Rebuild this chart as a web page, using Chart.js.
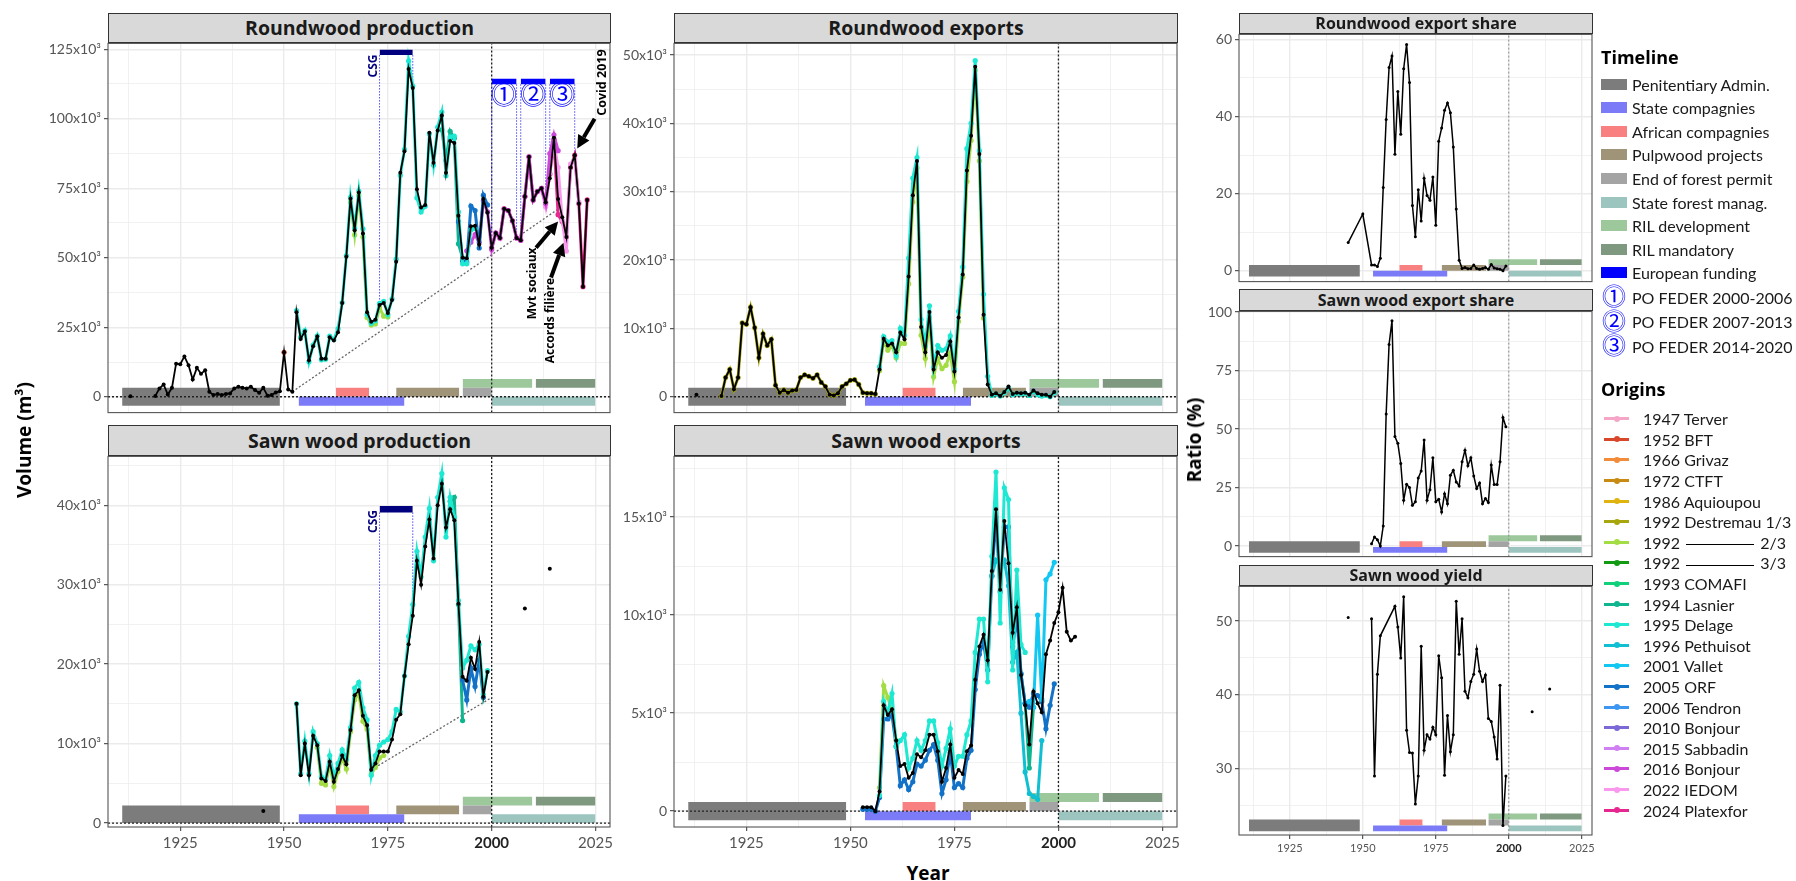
<!DOCTYPE html>
<html>
<head>
<meta charset="utf-8">
<title>Timber production and exports</title>
<script src="https://cdn.jsdelivr.net/npm/chart.js@4.4.1/dist/chart.umd.min.js"></script>
<style>
  html, body { margin: 0; padding: 0; background: #fff; }
  #page { position: relative; width: 1796px; height: 881px; overflow: hidden; font-family: Lato, sans-serif; }
  #page canvas { position: absolute; }
  .strip { position: absolute; box-sizing: border-box; background: #d9d9d9; border: 1px solid #333;
           font-family: "Open Sans", sans-serif; font-weight: 700; color: #1a1a1a; text-align: center; white-space: nowrap; }
  .axis-title { position: absolute; font-family: "Open Sans", sans-serif; font-weight: 700; font-size: 19px;
                color: #000; white-space: nowrap; transform: translate(-50%, -50%); }
  .axis-title.vertical { transform: translate(-50%, -50%) rotate(-90deg); }
  .leg-title { position: absolute; left: 1601px; font-family: "Open Sans", sans-serif; font-weight: 700;
               font-size: 18px; color: #000; transform: translateY(-50%); white-space: nowrap; }
  .leg-row { position: absolute; left: 1601px; height: 22px; display: flex; align-items: center;
             font-size: 16px; color: #1a1a1a; white-space: nowrap; transform: translateY(-50%); }
  .sw-box { display: inline-block; width: 26px; height: 11px; margin-right: 5px; }
  .sw-line { position: relative; display: inline-block; width: 25px; height: 14px; margin: 0 14px 0 3px; }
  .sw-line i { position: absolute; left: 0; top: 5.5px; width: 25px; height: 3px; }
  .sw-line b { position: absolute; left: 9.5px; top: 4px; width: 6px; height: 6px; border-radius: 50%; }
  .sw-circ { display: inline-block; width: 26px; margin-right: 5px; text-align: center; color: #0000ff;
             font-family: "DejaVu Sans", "Noto Sans CJK JP", sans-serif; font-size: 24px; line-height: 22px; }
  .dash { display: inline-block; width: 68px; border-top: 1.5px solid #000; margin: 0 6px; vertical-align: middle; }
</style>
</head>
<body>
<div id="page"></div>
<script>
// shared x axis (years)
const X_MIN = 1907.6, X_MAX = 2028.5;
const xMajor = [1925, 1950, 1975, 2000, 2025];
const xMinor = [1912.5, 1937.5, 1962.5, 1987.5, 2012.5];

// timeline periods
const timelineNames = ['Penitentiary Admin.', 'State compagnies', 'African compagnies', 'Pulpwood projects',
  'End of forest permit', 'State forest manag.', 'RIL development', 'RIL mandatory'];
const timelineStart = [1911, 1953.5, 1962.5, 1977, 1993, 2000, 1993, 2010.6];
const timelineEnd = [1949, 1979, 1970.5, 1992.2, 2000, 2025, 2009.8, 2025];
const timelineColors = ['#7c7c7c', '#7b7bf8', '#f88080', '#a09478', '#a4a4a4', '#9cc5c0', '#9dc89b', '#7f9880'];

// events
const csgPeriod = [1973, 1981];
const federPeriods = [[2000, 2006], [2007, 2013], [2014, 2020]];
const federMarks = ['⓵', '⓶', '⓷'];
const federNames = ['PO FEDER 2000-2006', 'PO FEDER 2007-2013', 'PO FEDER 2014-2020'];

// data origins
const originNames = ['1947 Terver', '1952 BFT', '1966 Grivaz', '1972 CTFT', '1986 Aquioupou', '1992 Destremau 1/3',
  '1992 2/3', '1992 3/3', '1993 COMAFI', '1994 Lasnier', '1995 Delage', '1996 Pethuisot', '2001 Vallet', '2005 ORF',
  '2006 Tendron', '2010 Bonjour', '2015 Sabbadin', '2016 Bonjour', '2022 IEDOM', '2024 Platexfor'];
const originColors = ['#f5a6c6', '#d9472b', '#f28c3a', '#c78a12', '#e0b40e', '#a8a60e', '#a4dc44', '#139a13',
  '#10d07a', '#0fb58e', '#1fe8d2', '#10bfd2', '#12c8f2', '#1272c8', '#3d96f0', '#7c68d6', '#d080f2', '#cc48d8',
  '#fa98ee', '#e6278f'];

// ---- Roundwood production (10^3 m3), consecutive years from the start year ----
const rwProd = [0.2, null, null, null, null, null,            // 1913-1918
  0.3, 3.0, 4.4, 0.8, 3.2, 11.9, 11.7, 14.5, 11.3, 6.2, 10.4,    // 1919-1929
  8.3, 9.5, 1.8, 0.6, 1.0, 0.6, 1.0, 1.2, 3.0, 3.6,              // 1930-1939
  3.2, 3.0, 3.6, 2.4, 1.4, 3.2, 0.4, 0.6, 1.5, 2.0,              // 1940-1949
  16.0, 2.6, 1.8, 30.4, 20.8, 23.5, 13.1, 18.2, 21.7, 13.7,      // 1950-1959
  13.7, 21.4, 20.2, 23.2, 33.7, 50.4, 71.2, 59.9, 73.5, 58.7,    // 1960-1969
  30.4, 27.0, 27.7, 33.0, 33.7, 30.1, 34.8, 48.6, 80.6, 88.3,    // 1970-1979
  117.9, 111.1, 74.6, 68.1, 69.0, 95.0, 84.2, 95.8, 101.2, 80.6, // 1980-1989
  92.0, 91.3, 65.1, 50.0, 49.8, 61.3, 61.5, 54.8, 71.1, 66.3,    // 1990-1999
  53.6, 58.9, 57.1, 67.6, 67.0, 63.3, 57.1, 56.3, 72.0, 86.3,    // 2000-2009
  70.8, 73.8, 75.0, 70.0, 78.6, 93.2, 71.1, 64.6, 57.5, 82.5,    // 2010-2019
  86.9, 69.5, 39.6, 70.8];                                       // 2020-2023
const rwProdDelage = [31.0, 21.4, 23.8, 12.6, 18.6, 21.9, 13.3, 13.5, 21.8, 20.6, 24.5, 33.9, 50.8, 71.7, 60.6,
  74.0, 60.4, 29.6, 26.4, 27.3, 33.6, 34.3, 29.6, 35.2, 49.5, 79.6, 89.0, 120.8, 111.8, 71.5, 66.5, 68.5, 94.6,
  83.3, 97.0, 102.4, 79.5, 93.5, 93.8, 66.5, 47.8, 47.8, 60.0, 60.5];          // 1953-1996
const rwProdOrf = [63.0, 48.8, 48.5, 68.6, 67.0, 53.5, 72.5, 69.0];           // 1992-1999
const rwProdLime = [70.0, 58.2, 72.5, 57.5, 28.5, 25.8, 26.2, 32.0, 29.0, 28.7]; // 1966-1975
const rwProdLasnier = [96.0, 85.0, 95.5, 93.0, 55.0, 50.0];                   // 1988-1993
const rwProdBft = [16.0];                                                     // 1950
const rwProdBonjour = [52.5, 55.6, 58.3, 55.5, 70.5, 66.5, 53.0, 58.9, 57.1, 67.6, 67.0, 63.3, 57.1, 56.3,
  72.0, 86.3, 70.8, 73.8, 75.0, 69.5, 87.5, 94.2, 88.5];                       // 1994-2016
const rwProdIedom = [74.5, 68.3, 80.5, 91.5, 82.5, 63.5, 52.4, 83.7, 85.5, 70.0]; // 2012-2021
const rwProdPlatexfor = [53.6, 58.9, 57.1, 67.6, 67.0, 63.3, 57.1, 56.3, 72.0, 86.3, 70.8, 73.8, 75.0, 70.0,
  80.0, 92.5, 65.5, 63.0, 57.5, 82.5, 86.9, 69.5, 39.6, 70.8];                 // 2000-2023
const rwProdTrend = [[1952, 1.8], [2016, 67.5]];

// ---- Roundwood exports (10^3 m3) ----
const rwExp = [0.3, null, null, null, null, null,             // 1913-1918
  0.1, 2.8, 4.0, 1.1, 2.8, 10.8, 10.6, 13.1, 10.1, 5.7, 9.2,     // 1919-1929
  7.5, 8.4, 1.7, 0.6, 1.0, 0.6, 0.9, 1.0, 2.8, 3.2,              // 1930-1939
  3.0, 2.7, 3.2, 2.1, 1.5, 0.3, 0.2, 0.5, 1.5, 1.9,              // 1940-1949
  2.4, 2.5, 1.8, 0.6, 0.5, 0.5, 0.4, 4.0, 8.5, 7.5,              // 1950-1959
  7.8, 6.5, 9.4, 8.4, 17.6, 29.5, 34.5, 10.2, 6.5, 12.4,         // 1960-1969
  4.0, 6.5, 5.7, 6.1, 8.1, 3.7, 11.6, 17.9, 33.1, 38.2,          // 1970-1979
  48.3, 35.5, 12.0, 1.8, 0.3, 0.5, 0.1, 0.7, 1.5, 0.4,           // 1980-1989
  0.6, 0.5, 0.6, 0.3, 0.9, 0.5, 0.3, 0.3, 0.0, 0.7];             // 1990-1999
const rwExpDestremau = [0.1, 2.8, 4.0, 1.1, 2.8, 10.8, 10.6, 13.1, 10.1, 5.7, 9.2, 7.5, 8.4, 1.7, 0.6, 1.0,
  0.6, 0.9, 1.0, 2.8, 3.2, 3.0, 2.7, 3.2, 2.1, 1.5, 0.3, 0.2, 0.5, 1.5, 1.9, 2.4, 2.5, 1.8, 0.6, 0.5, 0.5, 0.4]; // 1919-1956
const rwExpDelage = [4.4, 8.8, 8.0, 8.2, 6.0, 10.0, 9.0, 20.3, 32.0, 35.0, 11.3, 7.5, 13.3, 4.3, 7.5, 6.8,
  7.0, 8.9, 4.0, 12.5, 19.0, 36.3, 40.0, 49.2, 36.0, 15.0, 3.0, 0.2, 0.4, 0.1, 0.6, 1.3, 0.3, 0.5, 0.4, 0.5,
  0.2, 0.8, 0.3, 0.1, 0.2, 0.0, 0.6];                                          // 1957-1999
const rwExpLime = [3.8, 8.2, 6.8, 7.4, 5.7, 7.8, 7.8, 16.5, 28.5, 33.5, 9.0, 5.6, 11.5, 2.9, 5.6, 4.1, 4.6,
  6.4, 2.2, 11.0, 17.5, 31.5, 37.5, 47.8, 34.5, 11.5];                         // 1957-1982

// ---- Sawn wood production (10^3 m3) ----
const swProdEarly = [1.5];                                    // 1945
const swProd = [15.0, 6.0, 10.0, 6.0, 11.0, 9.8, 5.6,         // 1953-1959
  5.3, 7.7, 5.2, 6.8, 8.5, 7.4, 11.7, 16.1, 16.7, 13.5,          // 1960-1969
  12.3, 6.7, 7.5, 9.0, 9.0, 9.0, 10.5, 13.0, 13.7, 18.5,         // 1970-1979
  22.5, 26.1, 33.0, 30.0, 34.8, 38.2, 33.3, 40.0, 42.7, 37.2,    // 1980-1989
  39.5, 38.1, 27.6, 18.4, 17.9, 20.8, 19.4, 22.8, 15.9, 19.0];   // 1990-1999
const swProdLateYears = [2008, 2014];
const swProdLate = [27.0, 32.0];
const swProdDelage = [15.0, 6.2, 10.3, 6.2, 11.5, 10.0, 5.8, 5.5, 8.5, 5.8, 7.5, 9.2, 8.0, 12.0, 17.0, 17.7,
  14.5, 13.0, 6.0, 8.5, 9.8, 10.2, 10.5, 11.5, 14.3, 14.0, 18.5, 23.5, 27.5, 34.2, 31.0, 36.0, 39.6, 33.0, 41.0,
  44.0, 36.0, 41.0, 38.5, 28.0, 19.5, 20.5, 22.3, 21.8, 22.5, 16.2, 19.2];      // 1953-1999
const swProdOrf = [18.0, 15.5, 19.5, 17.2, 20.5, 15.8];                       // 1993-1998
const swProdLasnier = [40.5, 41.0, 27.5, 12.9];                               // 1990-1993
const swProdLime = [9.5, 5.0, 4.8, 7.4, 4.6, 6.5, 8.2, 6.8, 11.5, 15.5, 16.3, 12.8, 11.8, 6.2, 7.0, 8.2, 8.5]; // 1958-1974
const swProdTrend = [[1971, 6.7], [2000, 15.8]];

// ---- Sawn wood exports (10^3 m3) ----
const swExp = [0.2, 0.2, 0.2, 0.0, 1.0, 5.4, 4.9,             // 1953-1959
  5.2, 3.6, 2.3, 2.4, 1.7, 1.95, 2.9, 2.75, 3.1, 3.9,            // 1960-1969
  3.9, 3.05, 1.5, 2.2, 3.4, 1.7, 2.1, 1.9, 3.05, 3.35,           // 1970-1979
  6.7, 8.4, 9.0, 7.7, 12.25, 15.4, 11.3, 14.8, 12.65, 9.1,       // 1980-1989
  10.4, 6.95, 5.4, 3.4, 6.1, 5.5, 5.05, 8.0, 8.7, 9.6,           // 1990-1999
  10.15, 11.4, 9.15, 8.7, 8.9];                                  // 2000-2004
const swExpDelage = [0.8, 5.6, 5.0, 6.0, 3.3, 3.6, 3.9, 2.2, 2.7, 3.6, 3.1, 3.6, 4.6, 4.6, 3.5, 2.3, 3.2, 4.2,
  2.3, 2.8, 2.8, 3.9, 4.6, 8.1, 9.8, 9.8, 6.6, 13.0, 17.3, 9.6, 16.5, 15.9, 7.2, 12.3, 8.5, 8.1]; // 1957-1992
const swExpPethuisot = [12.0, 12.8, 12.5, 12.8, 11.5, 7.6, 8.1, 5.0, 2.0, 0.9, 0.75, 0.6, 3.6]; // 1984-1996
const swExpVallet = [5.6, 5.3, 10.0, 5.7, 11.8, 12.1, 12.7];                  // 1993-1999
const swExpOrf = [0.1, 0.1, 0.1, 0.0, 0.7, 4.7, 4.7, 4.9, 3.3, 1.3, 1.6, 1.1, 1.5, 2.4, 2.3, 2.6, 3.1, 3.4,
  2.6, 0.9, 1.6, 3.0, 1.2, 1.4, 1.2, 2.7, 3.1, 6.2, 8.0, 8.6, 7.2, 12.0, 15.0, 11.2, 14.5, 14.5, 8.4, 9.9,
  7.0, 5.5, 5.3, 6.0, 5.9, 5.6, 4.2, 5.4, 6.5];                                 // 1953-1999
const swExpLime = [1.2, 6.4, 5.8, 5.1, 3.6];                                  // 1957-1961
const swExpLasnier = [8.6, 10.7, 7.0, 5.5, 2.2, 5.3];                         // 1989-1994

// ---- Ratios (%) ----
const rwShareEarlyYears = [1945, 1950];
const rwShareEarly = [7.3, 14.7];
const rwShare = [1.5, 1.5, 1.1, 3.2, 21.6, 39.2, 52.7,        // 1953-1959
  55.7, 30.2, 46.5, 35.4, 52.4, 58.7, 48.8, 16.9, 8.8, 21.0,     // 1960-1969
  12.9, 24.0, 19.5, 18.3, 24.3, 11.8, 33.6, 37.0, 41.6, 43.5,    // 1970-1979
  41.0, 32.1, 16.0, 2.7, 0.6, 0.8, 0.5, 0.6, 1.5, 0.6,           // 1980-1989
  0.4, 0.6, 0.8, 0.4, 1.6, 0.7, 0.5, 0.4, 0.0, 1.2];             // 1990-1999
const swShare = [1.0, 3.9, 2.7, 0.0, 8.6, 56.5, 86.2,         // 1953-1959
  96.3, 46.8, 43.9, 35.3, 19.6, 26.4, 25.0, 17.4, 18.9, 29.1,    // 1960-1969
  32.1, 45.3, 19.6, 24.1, 37.7, 18.9, 20.0, 14.6, 22.4, 18.1,    // 1970-1979
  30.3, 32.4, 27.4, 25.7, 36.0, 41.0, 34.3, 37.7, 30.0, 24.6,    // 1980-1989
  27.0, 18.1, 20.3, 18.6, 34.6, 26.3, 26.3, 36.0, 55.0, 51.0];   // 1990-1999
const yieldEarly = [50.5];                                    // 1945
const yield50s = [50.3, 29.0, 42.8, 48.0];                    // 1953-1956
const yieldMain = [52.0, 49.2, 45.0, 53.3, 35.2, 32.2, 32.1, 25.2, 29.0, // 1961-1969
  46.6, 32.5, 34.6, 34.0, 35.6, 34.6, 45.3, 42.3, 29.1, 37.2,    // 1970-1979
  32.3, 34.6, 52.7, 45.5, 50.3, 40.5, 39.6, 41.8, 42.8, 46.2,    // 1980-1989
  43.2, 41.8, 42.7, 36.8, 36.4, 34.3, 31.3, 41.3, 22.3, 29.0];   // 1990-1999
const yieldLateYears = [2008, 2014];
const yieldLate = [37.7, 40.8];

// ---------------------------------------------------------------
const page = document.getElementById('page');
Chart.defaults.font.family = 'Lato, sans-serif';

const pts = (start, values) => values.map((v, i) => ({ x: start + i, y: v })).filter(p => p.y !== null);
const pairs = (years, values) => years.map((yr, i) => ({ x: yr, y: values[i] }));
const originColor = name => originColors[originNames.indexOf(name)];

function blackDs(data, thin) {
  return { data, borderColor: '#000', backgroundColor: '#000', pointBackgroundColor: '#000',
    borderWidth: thin ? 1.5 : 1.8, pointRadius: thin ? 1.5 : 2, pointBorderWidth: 0,
    spanGaps: 5.5, fill: false, order: 0 };
}
function originDs(data, name) {
  const c = originColor(name);
  return { data, borderColor: c, backgroundColor: c, pointBackgroundColor: c, borderWidth: 3,
    pointRadius: 2.6, pointBorderWidth: 0, spanGaps: 5.5, fill: false, order: 2 };
}
function rectDs(x0, x1, y0, y1, color, order) {
  return { data: [{ x: x0, y: y1 }, { x: x1, y: y1 }], borderWidth: 0, pointRadius: 0,
    fill: { value: y0 }, backgroundColor: color, borderColor: color, order };
}
function dottedDs(data, color, width, dash, order) {
  return { data, borderColor: color, borderWidth: width, borderDash: dash, pointRadius: 0, fill: false, order };
}
function timelineDs(base, h) {
  const lo = [-1, -1, 0, 0, 0, -1, 1, 1], hi = [1, 0, 1, 1, 1, 0, 2, 2];
  return timelineNames.map((n, i) =>
    rectDs(timelineStart[i], timelineEnd[i], base + lo[i] * h, base + hi[i] * h, timelineColors[i], 10));
}
function trendDs(tr) {
  return dottedDs(tr.map(([x, y]) => ({ x, y })), '#666', 1.3, [2, 2], 3);
}
function guideDs(x, yTop, yData) {
  return dottedDs([{ x, y: yTop }, { x, y: yData }], '#3a3aff', 0.9, [1.5, 1.5], 4);
}
function csgDs(start, values, yLo, yHi) {
  const [a, b] = csgPeriod;
  return [rectDs(a, b, yLo, yHi, '#00007f', 1),
    guideDs(a, yLo, values[a - start]), guideDs(b, yLo, values[b - start])];
}
function federDs(start, values, yLo, yHi) {
  const out = [];
  federPeriods.forEach(([a, b]) => {
    out.push(rectDs(a, b, yLo, yHi, '#0000ff', 1));
    out.push(guideDs(a, yLo, values[a - start]), guideDs(b, yLo, values[b - start]));
  });
  return out;
}

function drawArrow(ctx, x0, y0, x1, y1) {
  const ang = Math.atan2(y1 - y0, x1 - x0), head = 13, hw = 6.5;
  const bx = x1 - head * Math.cos(ang), by = y1 - head * Math.sin(ang);
  ctx.strokeStyle = '#000'; ctx.fillStyle = '#000'; ctx.lineWidth = 4; ctx.lineCap = 'butt';
  ctx.beginPath(); ctx.moveTo(x0, y0); ctx.lineTo(bx, by); ctx.stroke();
  ctx.beginPath(); ctx.moveTo(x1, y1);
  ctx.lineTo(bx + hw * Math.sin(ang), by - hw * Math.cos(ang));
  ctx.lineTo(bx - hw * Math.sin(ang), by + hw * Math.cos(ang));
  ctx.closePath(); ctx.fill();
}
function makeDeco(deco) {
  return {
    id: 'deco',
    afterDatasetsDraw(chart) {
      const { ctx, chartArea: a, scales: { x, y } } = chart;
      ctx.save();
      ctx.beginPath(); ctx.rect(a.left, a.top, a.right - a.left, a.bottom - a.top); ctx.clip();
      (deco.arrows || []).forEach(([x0, y0, x1, y1]) => drawArrow(ctx,
        x.getPixelForValue(x0), y.getPixelForValue(y0), x.getPixelForValue(x1), y.getPixelForValue(y1)));
      (deco.texts || []).forEach(t => {
        ctx.save();
        ctx.translate(x.getPixelForValue(t.x), y.getPixelForValue(t.y));
        if (t.rotate) ctx.rotate(-Math.PI / 2);
        ctx.font = `${t.weight || 700} ${t.size}px ${t.family || '"Open Sans", sans-serif'}`;
        ctx.fillStyle = t.color || '#000';
        ctx.textAlign = 'center'; ctx.textBaseline = 'middle';
        ctx.fillText(t.text, 0, 0);
        ctx.restore();
      });
      ctx.restore();
      ctx.save();
      ctx.strokeStyle = '#555'; ctx.lineWidth = 1.1;
      ctx.strokeRect(a.left, a.top, a.right - a.left, a.bottom - a.top);
      ctx.restore();
    }
  };
}

const COLS = { L: { left: 108, right: 610, padL: 72 }, M: { left: 674, right: 1177, padL: 64 },
  R: { left: 1239, right: 1592, padL: 40 } };
const ROWS = { top: { stripTop: 13, top: 42, bottom: 414 }, bottom: { stripTop: 425, top: 455, bottom: 827 },
  r1: { stripTop: 13, top: 33, bottom: 283 }, r2: { stripTop: 289, top: 310, bottom: 558 },
  r3: { stripTop: 565, top: 585, bottom: 835 } };

function buildPanel(p) {
  const c = COLS[p.col], r = ROWS[p.row];
  const padT = 10, padR = 22, padB = p.xLabels ? p.xLabelSpace : 10;
  const W = c.right - c.left + c.padL + padR;
  const H = r.bottom - r.top + padT + padB;
  const canvas = document.createElement('canvas');
  canvas.width = W; canvas.height = H;
  Object.assign(canvas.style, { left: (c.left - c.padL) + 'px', top: (r.top - padT) + 'px', width: W + 'px', height: H + 'px' });
  page.appendChild(canvas);

  const strip = document.createElement('div');
  strip.className = 'strip';
  strip.textContent = p.title;
  Object.assign(strip.style, { left: c.left + 'px', top: r.stripTop + 'px', width: (c.right - c.left + 1) + 'px',
    height: (r.top - r.stripTop + 1) + 'px', fontSize: p.stripFont + 'px', lineHeight: (r.top - r.stripTop - 1) + 'px' });
  page.appendChild(strip);

  const isMajorX = v => xMajor.includes(v);
  const isMajorY = v => p.yMajor.includes(v);
  const yLabel = v => !isMajorY(v) ? '' : (p.thousands && v !== 0 ? v + 'x10³' : String(v));
  const datasets = [...p.series, ...timelineDs(p.base, p.h),
    dottedDs([{ x: 2000, y: p.yMin }, { x: 2000, y: p.yMax }], p.col === 'R' ? '#8a8a8a' : '#222', p.col === 'R' ? 1 : 1.3, [2, 2], 5)];
  if (p.zero) datasets.push(dottedDs([{ x: X_MIN, y: 0 }, { x: X_MAX, y: 0 }], '#222', 1.3, [2, 2], 5));

  new Chart(canvas, {
    type: 'line',
    data: { datasets },
    options: {
      responsive: false, animation: false, devicePixelRatio: 1, events: [],
      layout: { padding: { left: 0, top: padT, right: padR, bottom: p.xLabels ? 0 : padB } },
      plugins: { legend: { display: false }, tooltip: { enabled: false } },
      scales: {
        x: {
          type: 'linear', min: X_MIN, max: X_MAX,
          afterBuildTicks: s => { s.ticks = xMajor.concat(xMinor).sort((a, b) => a - b).map(v => ({ value: v })); },
          afterFit: s => { s.height = p.xLabels ? padB : 0; },
          border: { display: false },
          grid: { color: '#ebebeb', lineWidth: ctx => (ctx.tick && isMajorX(ctx.tick.value)) ? 1.4 : 0.7,
            drawTicks: !!p.xLabels, tickLength: 4, tickWidth: 1,
            tickColor: ctx => (ctx.tick && isMajorX(ctx.tick.value)) ? '#333' : 'rgba(0,0,0,0)' },
          ticks: { display: !!p.xLabels, autoSkip: false, maxRotation: 0, minRotation: 0, padding: 3,
            callback: v => isMajorX(v) ? String(v) : '',
            font: ctx => ({ family: 'Lato', size: p.xTickSize || 15, weight: (ctx.tick && ctx.tick.value === 2000) ? 'bold' : 'normal' }),
            color: ctx => (ctx.tick && ctx.tick.value === 2000) ? '#222' : '#555' }
        },
        y: {
          type: 'linear', min: p.yMin, max: p.yMax,
          afterBuildTicks: s => { s.ticks = p.yMajor.concat(p.yMinor).sort((a, b) => a - b).map(v => ({ value: v })); },
          afterFit: s => { s.width = c.padL; },
          border: { display: false },
          grid: { color: '#ebebeb', lineWidth: ctx => (ctx.tick && isMajorY(ctx.tick.value)) ? 1.4 : 0.7,
            drawTicks: true, tickLength: 4, tickWidth: 1,
            tickColor: ctx => (ctx.tick && isMajorY(ctx.tick.value)) ? '#333' : 'rgba(0,0,0,0)' },
          ticks: { autoSkip: false, padding: 3, callback: yLabel, font: { family: 'Lato', size: 14 }, color: '#555' }
        }
      }
    },
    plugins: [makeDeco(p.deco || {})]
  });
}

const panels = [
  { title: 'Roundwood production', col: 'L', row: 'top', stripFont: 19.5, thousands: true, zero: true,
    yMin: -5.7, yMax: 127.1, yMajor: [0, 25, 50, 75, 100, 125], yMinor: [12.5, 37.5, 62.5, 87.5, 112.5], base: 0, h: 3.2,
    series: [blackDs(pts(1913, rwProd)),
      originDs(pts(1953, rwProdDelage), '1995 Delage'), originDs(pts(1992, rwProdOrf), '2005 ORF'),
      originDs(pts(1966, rwProdLime), '1992 2/3'), originDs(pts(1988, rwProdLasnier), '1994 Lasnier'),
      originDs(pts(1950, rwProdBft), '1952 BFT'), originDs(pts(1994, rwProdBonjour), '2016 Bonjour'),
      originDs(pts(2012, rwProdIedom), '2022 IEDOM'), originDs(pts(2000, rwProdPlatexfor), '2024 Platexfor'),
      trendDs(rwProdTrend), ...csgDs(1913, rwProd, 122.9, 124.8), ...federDs(1913, rwProd, 112.4, 114.4)],
    deco: {
      texts: [
        { x: 1971.5, y: 119, text: 'CSG', color: '#00007f', size: 12, rotate: true },
        { x: 2026.6, y: 113, text: 'Covid 2019', size: 12.5, rotate: true },
        { x: 2009.9, y: 40.8, text: 'Mvt sociaux', size: 12, rotate: true },
        { x: 2014.2, y: 27.4, text: 'Accords filière', size: 12, rotate: true },
        ...federMarks.map((m, i) => ({ x: (federPeriods[i][0] + federPeriods[i][1]) / 2, y: 107.7, text: m,
          color: '#0000ff', size: 26, weight: 400, family: '"DejaVu Sans", "Noto Sans CJK JP", sans-serif' }))
      ],
      arrows: [[2024.8, 100, 2020.6, 89.3], [2010.7, 53.6, 2016.0, 63.0], [2014.3, 42.9, 2017.3, 55.4]]
    } },
  { title: 'Sawn wood production', col: 'L', row: 'bottom', stripFont: 19.5, thousands: true, zero: true,
    xLabels: true, xLabelSpace: 30, xTickSize: 15,
    yMin: -0.5, yMax: 46.15, yMajor: [0, 10, 20, 30, 40], yMinor: [5, 15, 25, 35, 45], base: 1.1, h: 1.1,
    series: [blackDs([...pts(1945, swProdEarly), ...pts(1953, swProd), ...pairs(swProdLateYears, swProdLate)]),
      originDs(pts(1953, swProdDelage), '1995 Delage'), originDs(pts(1993, swProdOrf), '2005 ORF'),
      originDs(pts(1990, swProdLasnier), '1994 Lasnier'), originDs(pts(1958, swProdLime), '1992 2/3'),
      trendDs(swProdTrend), ...csgDs(1953, swProd, 39.1, 39.9)],
    deco: { texts: [{ x: 1971.5, y: 37.95, text: 'CSG', color: '#00007f', size: 12, rotate: true }] } },
  { title: 'Roundwood exports', col: 'M', row: 'top', stripFont: 19.5, thousands: true, zero: true,
    yMin: -2.32, yMax: 51.7, yMajor: [0, 10, 20, 30, 40, 50], yMinor: [5, 15, 25, 35, 45], base: 0, h: 1.3,
    series: [blackDs(pts(1913, rwExp)),
      originDs(pts(1957, rwExpDelage), '1995 Delage'), originDs(pts(1957, rwExpLime), '1992 2/3'),
      originDs(pts(1919, rwExpDestremau), '1992 Destremau 1/3')] },
  { title: 'Sawn wood exports', col: 'M', row: 'bottom', stripFont: 19.5, thousands: true, zero: true,
    xLabels: true, xLabelSpace: 30, xTickSize: 15,
    yMin: -0.81, yMax: 18.1, yMajor: [0, 5, 10, 15], yMinor: [2.5, 7.5, 12.5, 17.5], base: 0, h: 0.46,
    series: [blackDs(pts(1953, swExp)),
      originDs(pts(1957, swExpDelage), '1995 Delage'), originDs(pts(1984, swExpPethuisot), '1996 Pethuisot'),
      originDs(pts(1993, swExpVallet), '2001 Vallet'), originDs(pts(1953, swExpOrf), '2005 ORF'),
      originDs(pts(1957, swExpLime), '1992 2/3'), originDs(pts(1989, swExpLasnier), '1994 Lasnier')] },
  { title: 'Roundwood export share', col: 'R', row: 'r1', stripFont: 16,
    yMin: -2.83, yMax: 61.3, yMajor: [0, 20, 40, 60], yMinor: [10, 30, 50], base: 0, h: 1.5,
    series: [blackDs([...pairs(rwShareEarlyYears, rwShareEarly), ...pts(1953, rwShare)], true)] },
  { title: 'Sawn wood export share', col: 'R', row: 'r2', stripFont: 16,
    yMin: -4.5, yMax: 100.3, yMajor: [0, 25, 50, 75, 100], yMinor: [12.5, 37.5, 62.5, 87.5], base: -0.4, h: 2.5,
    series: [blackDs(pts(1953, swShare), true)] },
  { title: 'Sawn wood yield', col: 'R', row: 'r3', stripFont: 16, xLabels: true, xLabelSpace: 22, xTickSize: 11,
    yMin: 21.0, yMax: 54.7, yMajor: [30, 40, 50], yMinor: [25, 35, 45], base: 22.3, h: 0.8,
    series: [blackDs([...pts(1945, yieldEarly), ...pts(1953, yield50s), ...pts(1961, yieldMain),
      ...pairs(yieldLateYears, yieldLate)], true)] }
];
panels.forEach(buildPanel);

// axis titles
function addText(cls, text, x, y) {
  const d = document.createElement('div');
  d.className = cls; d.innerHTML = text;
  d.style.left = x + 'px'; d.style.top = y + 'px';
  page.appendChild(d);
}
addText('axis-title vertical', 'Volume (m³)', 24, 440);
addText('axis-title vertical', 'Ratio (%)', 1194, 440);
addText('axis-title', 'Year', 928, 873);

// legend
function legendRow(cy, swatch, label) {
  const row = document.createElement('div');
  row.className = 'leg-row'; row.style.top = cy + 'px';
  row.innerHTML = swatch + '<span>' + label + '</span>';
  page.appendChild(row);
}
addText('leg-title', 'Timeline', 1601, 57);
timelineNames.forEach((n, i) => legendRow(84 + 23.6 * i, `<span class="sw-box" style="background:${timelineColors[i]}"></span>`, n));
legendRow(84 + 23.6 * 8, '<span class="sw-box" style="background:#0000ff"></span>', 'European funding');
[297, 321.5, 346].forEach((cy, i) => legendRow(cy, `<span class="sw-circ">${federMarks[i]}</span>`, federNames[i]));
addText('leg-title', 'Origins', 1601, 389);
originNames.forEach((n, i) => {
  const m = n.match(/^(\d{4}) (\d\/3)$/);
  const label = m ? `${m[1]}<span class="dash"></span>${m[2]}` : n;
  legendRow(418.7 + 20.6 * i, `<span class="sw-line"><i style="background:${originColors[i]}"></i><b style="background:${originColors[i]}"></b></span>`, label);
});
</script>
</body>
</html>
